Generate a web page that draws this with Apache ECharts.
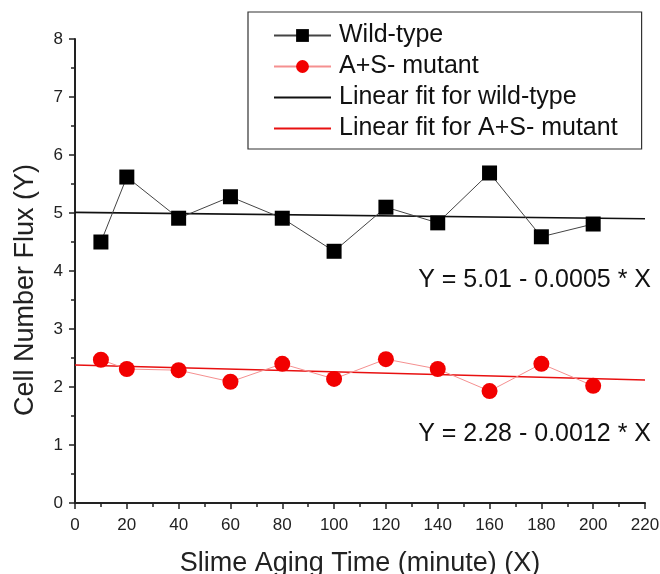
<!DOCTYPE html>
<html>
<head>
<meta charset="utf-8">
<script src="https://cdn.jsdelivr.net/npm/echarts@6/dist/echarts.min.js"></script>
<style>
html,body{margin:0;padding:0;background:#fff;}
#chart{width:660px;height:574px;}
</style>
</head>
<body>
<div id="chart"></div>
<script>
var times = [10, 20, 40, 60, 80, 100, 120, 140, 160, 180, 200];
var wildType = [4.50, 5.62, 4.91, 5.28, 4.91, 4.34, 5.10, 4.83, 5.69, 4.59, 4.81];
var mutant = [2.47, 2.31, 2.29, 2.09, 2.40, 2.14, 2.48, 2.31, 1.93, 2.40, 2.02];
var fitX = [0, 220];
var wildFit = [5.01, 4.90];
var mutantFit = [2.38, 2.12];
var seriesNames = ['Wild-type', 'A+S- mutant', 'Linear fit for wild-type', 'Linear fit for A+S- mutant'];
var equations = ['Y = 5.01 - 0.0005 * X', 'Y = 2.28 - 0.0012 * X'];
var xTitle = 'Slime Aging Time (minute) (X)';
var yTitle = 'Cell Number Flux (Y)';

function pairs(xs, ys) { return xs.map(function (x, i) { return [x, ys[i]]; }); }

var FONT = 'Liberation Sans, Arial, Helvetica, sans-serif';
var chart = echarts.init(document.getElementById('chart'));
chart.setOption({
  animation: false,
  backgroundColor: '#fff',
  grid: { left: 75, right: 15, top: 39, bottom: 71, containLabel: false, outerBoundsMode: 'none' },
  xAxis: {
    type: 'value', min: 0, max: 220, interval: 20,
    name: xTitle, nameLocation: 'middle', nameGap: 47,
    nameTextStyle: { fontFamily: FONT, fontSize: 27, color: '#222' },
    axisLine: { show: true, onZero: false, lineStyle: { color: '#222', width: 2 } },
    axisTick: { show: true, inside: false, length: 6, lineStyle: { color: '#222', width: 1.5 } },
    minorTick: { show: true, splitNumber: 2, length: 4, lineStyle: { color: '#222', width: 1.5 } },
    axisLabel: { fontFamily: FONT, fontSize: 17, color: '#222', margin: 14 },
    splitLine: { show: false }
  },
  yAxis: {
    type: 'value', min: 0, max: 8, interval: 1,
    axisLine: { show: true, onZero: false, lineStyle: { color: '#222', width: 2 } },
    axisTick: { show: true, inside: false, length: 6, lineStyle: { color: '#222', width: 1.5 } },
    minorTick: { show: true, splitNumber: 2, length: 4, lineStyle: { color: '#222', width: 1.5 } },
    axisLabel: { fontFamily: FONT, fontSize: 17, color: '#222', margin: 12 },
    splitLine: { show: false }
  },
  legend: {
    orient: 'vertical', left: 248, top: 12,
    padding: [11, 24, 8, 25],
    itemGap: 6, itemWidth: 57, itemHeight: 16,
    borderColor: '#333', borderWidth: 1.2, backgroundColor: '#fff',
    textStyle: { fontFamily: FONT, fontSize: 25, color: '#111', padding: [0, 0, 0, 3] },
    data: [
      { name: seriesNames[0] },
      { name: seriesNames[1] },
      { name: seriesNames[2], itemStyle: { opacity: 0 } },
      { name: seriesNames[3], itemStyle: { opacity: 0 } }
    ]
  },
  series: [
    {
      name: seriesNames[0], type: 'line', data: pairs(times, wildType),
      symbol: 'rect', symbolSize: 15,
      itemStyle: { color: '#000' },
      lineStyle: { color: '#444', width: 1 }, z: 3
    },
    {
      name: seriesNames[1], type: 'line', data: pairs(times, mutant),
      symbol: 'circle', symbolSize: 16,
      itemStyle: { color: '#f20000' },
      lineStyle: { color: '#f59090', width: 1 }, z: 3
    },
    {
      name: seriesNames[2], type: 'line', data: pairs(fitX, wildFit),
      symbol: 'none', itemStyle: { color: '#111' }, lineStyle: { color: '#111', width: 1.6 }, z: 2
    },
    {
      name: seriesNames[3], type: 'line', data: pairs(fitX, mutantFit),
      symbol: 'none', itemStyle: { color: '#e81010' }, lineStyle: { color: '#e81010', width: 1.6 }, z: 2
    }
  ],
  graphic: [
    { type: 'text', x: 651, y: 280, style: { text: equations[0], fontFamily: FONT, fontSize: 25, fill: '#111', textAlign: 'right', textVerticalAlign: 'middle' } },
    { type: 'text', x: 651, y: 434, style: { text: equations[1], fontFamily: FONT, fontSize: 25, fill: '#111', textAlign: 'right', textVerticalAlign: 'middle' } },
    { type: 'text', x: 26, y: 290, rotation: Math.PI / 2, style: { text: yTitle, fontFamily: FONT, fontSize: 27, fill: '#222', textAlign: 'center', textVerticalAlign: 'middle' } }
  ]
});
</script>
</body>
</html>
